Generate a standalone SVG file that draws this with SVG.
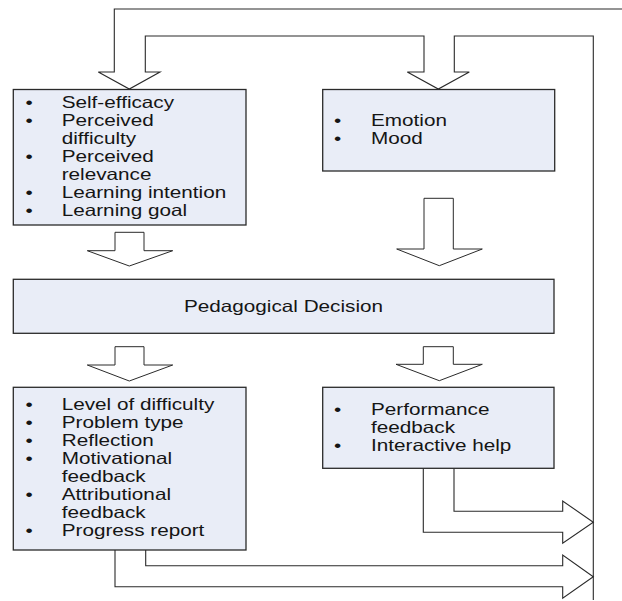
<svg xmlns="http://www.w3.org/2000/svg" width="622" height="601" viewBox="0 0 622 601">
  <style>
    .box { fill: #E9EDF7; stroke: #2a2a2a; stroke-width: 1.3; }
    .conn { fill: none; stroke: #2a2a2a; stroke-width: 1.1; stroke-linejoin: miter; }
    .blk { fill: #ffffff; stroke: #2a2a2a; stroke-width: 1; }
    .t { font-family: "Liberation Sans", Arial, sans-serif; font-size: 16.3px; fill: #151515; }
  </style>
  <rect width="622" height="601" fill="#ffffff"/>

  <!-- feedback loops and block arrows -->
  <g id="connectors">
    <!-- loop from the right rail back into both upper boxes -->
    <path class="conn" d="M622,9 H114.3 V72 H98.3 L129.3,89 L160,72 H145.3 V36 H424 V72 H407.3 L438.3,89 L469.3,72 H454.3 V36 H593.3 V600"/>
    <!-- upper boxes into decision -->
    <path class="blk" d="M115,232.3 H144 V250.7 H172.7 L129.3,266 L87.3,250.7 H115 Z"/>
    <path class="blk" d="M424,198.3 H453.3 V249 H482.3 L439.3,265.7 L396.7,249 H424 Z"/>
    <!-- decision into lower boxes -->
    <path class="blk" d="M115,346.7 H144 V365 H172.7 L129.3,381 L87.3,365 H115 Z"/>
    <path class="blk" d="M423.3,346.7 H453.3 V364.3 H482.3 L439.3,380.7 L396,364.3 H423.3 Z"/>
    <!-- lower boxes out to the right rail -->
    <path class="conn" d="M454,468.3 V511.3 H562.7 V501 L593.3,522.3 L562.7,543.3 V532.3 H423.3 V468.3"/>
    <path class="conn" d="M145.7,550 V565.7 H562.7 V555 L593.3,576.7 L562.7,598.3 V586.7 H115 V550"/>
  </g>

  <g id="learner-beliefs">
    <rect class="box" x="13.3" y="89.5" width="232.7" height="135.5"/>
    <text class="t" transform="matrix(1.27 0 0 1 25.5 108)">•</text>
    <text class="t" transform="matrix(1.27 0 0 1 61.7 108)">Self-efficacy</text>
    <text class="t" transform="matrix(1.27 0 0 1 25.5 126)">•</text>
    <text class="t" transform="matrix(1.27 0 0 1 61.7 126)">Perceived</text>
    <text class="t" transform="matrix(1.27 0 0 1 61.7 144)">difficulty</text>
    <text class="t" transform="matrix(1.27 0 0 1 25.5 162)">•</text>
    <text class="t" transform="matrix(1.27 0 0 1 61.7 162)">Perceived</text>
    <text class="t" transform="matrix(1.27 0 0 1 61.7 180)">relevance</text>
    <text class="t" transform="matrix(1.27 0 0 1 25.5 198)">•</text>
    <text class="t" transform="matrix(1.27 0 0 1 61.7 198)">Learning intention</text>
    <text class="t" transform="matrix(1.27 0 0 1 25.5 216)">•</text>
    <text class="t" transform="matrix(1.27 0 0 1 61.7 216)">Learning goal</text>
  </g>

  <g id="affect">
    <rect class="box" x="322.7" y="89.5" width="232" height="81.5"/>
    <text class="t" transform="matrix(1.27 0 0 1 334 126)">•</text>
    <text class="t" transform="matrix(1.27 0 0 1 371 126)">Emotion</text>
    <text class="t" transform="matrix(1.27 0 0 1 334 144)">•</text>
    <text class="t" transform="matrix(1.27 0 0 1 371 144)">Mood</text>
  </g>

  <g id="decision">
    <rect class="box" x="13.3" y="279.3" width="540.7" height="54"/>
    <text class="t" text-anchor="middle" transform="matrix(1.27 0 0 1 283.5 311.5)">Pedagogical Decision</text>
  </g>

  <g id="tutoring-actions">
    <rect class="box" x="13.3" y="387.3" width="232.7" height="162.7"/>
    <text class="t" transform="matrix(1.27 0 0 1 25.5 410)">•</text>
    <text class="t" transform="matrix(1.27 0 0 1 61.7 410)">Level of difficulty</text>
    <text class="t" transform="matrix(1.27 0 0 1 25.5 428)">•</text>
    <text class="t" transform="matrix(1.27 0 0 1 61.7 428)">Problem type</text>
    <text class="t" transform="matrix(1.27 0 0 1 25.5 446)">•</text>
    <text class="t" transform="matrix(1.27 0 0 1 61.7 446)">Reflection</text>
    <text class="t" transform="matrix(1.27 0 0 1 25.5 464)">•</text>
    <text class="t" transform="matrix(1.27 0 0 1 61.7 464)">Motivational</text>
    <text class="t" transform="matrix(1.27 0 0 1 61.7 482)">feedback</text>
    <text class="t" transform="matrix(1.27 0 0 1 25.5 500)">•</text>
    <text class="t" transform="matrix(1.27 0 0 1 61.7 500)">Attributional</text>
    <text class="t" transform="matrix(1.27 0 0 1 61.7 518)">feedback</text>
    <text class="t" transform="matrix(1.27 0 0 1 25.5 536)">•</text>
    <text class="t" transform="matrix(1.27 0 0 1 61.7 536)">Progress report</text>
  </g>

  <g id="domain-actions">
    <rect class="box" x="322.7" y="387.3" width="231.3" height="81"/>
    <text class="t" transform="matrix(1.27 0 0 1 334 415)">•</text>
    <text class="t" transform="matrix(1.27 0 0 1 371 415)">Performance</text>
    <text class="t" transform="matrix(1.27 0 0 1 371 433)">feedback</text>
    <text class="t" transform="matrix(1.27 0 0 1 334 451)">•</text>
    <text class="t" transform="matrix(1.27 0 0 1 371 451)">Interactive help</text>
  </g>
</svg>
